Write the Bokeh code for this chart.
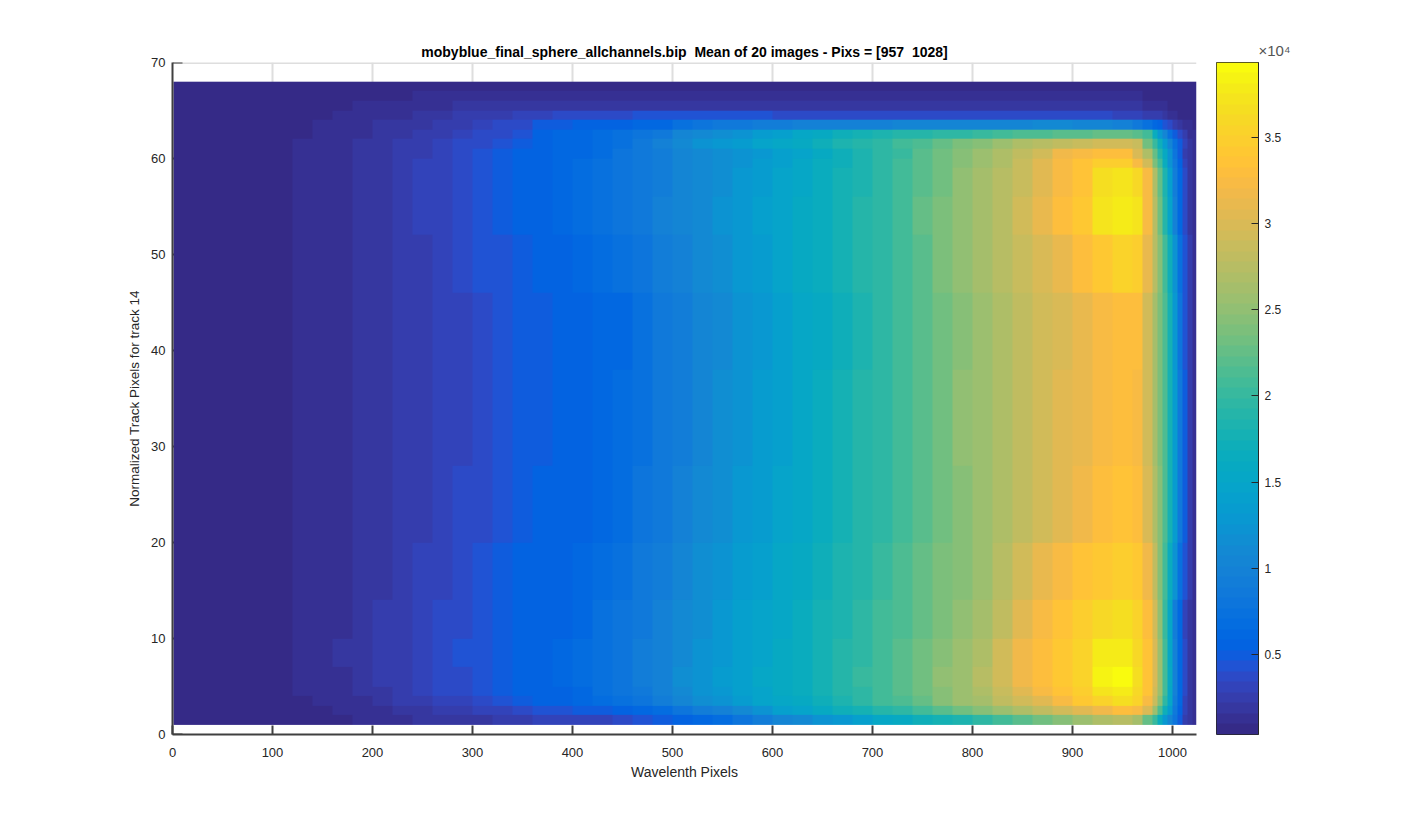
import numpy as np
from bokeh.plotting import figure
from bokeh.layouts import row
from bokeh.models import LinearColorMapper, FixedTicker
from bokeh.embed import file_html
from bokeh.resources import INLINE

title_text = "mobyblue_final_sphere_allchannels.bip\u00a0 Mean of 20 images - Pixs = [957\u00a0 1028]"
x_label = "Wavelenth Pixels"
y_label = "Normalized Track Pixels for track 14"
x_ticks = [0, 100, 200, 300, 400, 500, 600, 700, 800, 900, 1000]
y_ticks = [0, 10, 20, 30, 40, 50, 60, 70]
cbar_ticks = [50, 100, 150, 200, 250, 300, 350]
cbar_labels = ["0.5", "1", "1.5", "2", "2.5", "3", "3.5"]
cbar_multiplier = "×10⁴"
value_low, value_high = 3.7, 393.4   # hundreds of counts
x_limit = 1024
y_limit = 70

# wavelength-pixel column edges
col_edges = [1, 100] + list(range(120, 961, 20)) + [970, 980, 985, 990, 995, 1000, 1005, 1010, 1015, 1020, 1024]
# track-pixel row edges (bottom to top)
row_edges = [1, 2, 3, 4, 5, 7, 10, 14, 20, 28, 38, 46, 52, 56, 59, 60, 61, 62, 63, 64, 65, 66, 67, 68]

# mean counts (hundreds) per row, per column
r01 = [5,7,8,8.5,9.5,11,13,14.5,16,18,20,21.5,23.5,26,28.5,30,32,34,40,45,52,57,62,68,80,95,102,110,120,130,140,150,160,170,178,186,196,208,222,234,245,255,268,275,265,228,200,165,130,105,80,50,28,17,11]
r02 = [5,7,8.5,9.5,11.5,13.5,15.5,18,21,24,27.5,30,33.5,38,41,44,47,52,56,60,68,80,90,98,108,125,138,148,158,170,180,190,198,208,220,232,242,255,268,280,292,305,318,330,322,298,255,215,170,135,85,55,30,18,11]
r03 = [5,8,9.5,11,13.5,15.5,19,22,25.5,29.5,33.5,38,43.5,49,53.5,56.5,60,66,75,82,90,105,115,124,133,145,152,162,173,185,195,205,215,228,242,255,265,278,292,308,326,343,355,368,352,325,285,245,195,150,95,60,33,19,12]
r04 = [5,8.5,10.5,13,15,18,21.5,25.5,29.5,34.5,39.5,44.5,49.5,53.5,56,58,63,72,80,88,98,112,120,130,140,148,156,166,177,188,198,208,220,232,246,258,270,286,308,325,336,350,372,380,360,335,295,255,205,155,100,62,35,20,12]
r05 = [5,9,11,13.5,15.5,19,22.5,26.5,31,35.5,40,45.5,50.5,54,57,59,65,74,82,90,100,115,123,132,142,150,158,168,179,190,200,210,222,234,248,258,272,292,318,332,340,354,385,388,365,338,298,258,208,158,100,62,36,20,12]
r07 = [5,9.5,11,13.5,16,19.5,23,27,31,36,40.5,46,51,54.5,57,59,65,73,81,89,98,113,122,130,140,148,156,166,177,188,198,208,220,232,245,256,268,290,316,332,340,352,378,380,362,335,296,255,205,155,98,62,35,20,12]
r10 = [5,9.5,11,13,15.5,19,22.5,26.5,30.5,35,39.5,45,49.5,53.5,56,58,63,71,79,87,96,110,119,128,138,146,154,164,175,186,196,205,216,228,240,250,262,282,305,325,337,347,360,368,352,330,292,250,202,152,95,60,34,20,12]
r14 = [5,9,10.5,12.5,15,18,21.5,25.5,29.5,34,38.5,43.5,48,52.5,55,57,60,68,76,84,93,105,114,124,134,142,150,160,170,182,192,201,212,224,236,246,258,274,292,310,322,334,344,350,340,315,280,245,208,165,120,75,42,22,13]
r20 = [5,8.5,10.5,12.5,14.5,17.5,20.5,23.5,27.5,31.5,35.5,40,44.5,49,53,55.5,58.5,63,70,78,88,98,108,118,127,136,145,155,165,177,188,197,208,221,234,246,256,268,281,294,306,317,327,335,330,300,268,242,212,175,135,85,48,26,14]
r28 = [5,8,10,11.5,13.5,16.5,20,23,26.5,30,34,38.5,43,48,52,55,57.5,61,66,76,86,95,105,115,124,133,142,152,163,175,187,196,207,220,234,248,259,271,282,293,304,314,323,330,325,290,262,238,212,175,135,85,50,28,14]
r38 = [5,8,10,12,13.5,16.5,19.5,22.5,26,29.5,33.5,38,42.5,47.5,51.5,54.5,57,60,64,73,83,92,102,112,122,131,140,150,161,172,184,194,205,218,232,245,256,268,280,291,302,313,322,330,328,292,265,240,212,175,130,82,46,25,14]
r46 = [5,8.5,10,12,14.5,17,20.5,24,28,32,36.5,41,45.5,50.5,54,58,61,66,74,82,91,101,110,119,128,137,146,156,166,177,188,198,208,222,236,250,261,273,284,297,313,328,340,352,345,312,275,243,210,170,125,75,42,23,13]
r52 = [5,9,10.5,12.5,15,18,21,25,29,33.5,38,43,47.5,53,58,61,66,73,81,88,96,104,112,120,129,138,147,157,167,178,189,198,209,223,237,251,262,274,290,312,328,342,372,378,370,325,272,232,190,145,100,60,35,20,12]
r56 = [5,9,10.5,13,15,18,21.5,25.5,29.5,34,38.5,43,48,53,58,60,65,72,80,87,95,102,110,118,127,136,145,154,164,175,186,195,206,220,234,248,260,272,286,305,326,338,366,372,362,322,270,228,185,140,95,60,35,20,12]
r59 = [5,9,10,12.5,14.5,17.5,21,24.5,28.5,33,37.5,42.5,47.5,53,58,61,65,71,79,86,94,103,110,117,125,134,143,153,163,174,185,194,205,219,232,245,257,271,285,305,326,338,345,345,325,290,240,205,165,125,85,55,32,19,12]
r60 = [5,8.5,10,12,14.5,17,20.5,24,28,32,36.5,41.5,47,53,58,61,64,70,78,85,93,102,108,115,121,129,138,148,160,172,184,194,204,217,230,243,255,268,280,295,316,326,330,330,298,270,228,190,160,125,78,48,28,17,11]
r61 = [5,8,9.8,11.5,14,16.5,19.5,23,26.5,30.5,35,40,46,52,58,61,63,69,76,85,98,113,120,128,135,145,152,162,172,183,192,197,205,215,228,238,246,258,270,275,278,285,291,295,285,235,200,170,135,105,72,48,30,18,11]
r62 = [5,7.5,9,11,13,15.5,18,21.5,24.5,27,30.5,34.5,40,46,57,60,62,67,72,78,86,105,112,118,124,132,140,150,160,170,177,182,187,192,196,198,202,207,212,216,220,222,224,225,218,205,165,130,105,75,52,35,23,15,10]
r63 = [5,7,8.5,9.8,12,14,16,19,21.5,24,27,30,34.5,40,47,50,53,56,58,60,62,72,78,84,88,92,95,97,99,100,100,101,102,103,104,105,106,106,107,108,108,106,104,100,88,74,64,56,46,36,28,20,15,11,8]
r64 = [5,6.5,8,9,10,12,14,15.8,18,20,22.5,25,28,31,33.5,35,37,38,40,41,41,41,41,41,41,41,40,40,38,38,38,39,39,39,39,39,39,39,39,39,39,38,35,33,30,27,24,22,18,14,11,9,8,7,6]
r65 = [5,6,7,8,9,9.9,11,12,13.5,15,16,17,17.5,18,18,18.5,19,19,19,19,19,19,19,19,19,19,19,19,19,19,19,19,19,19,19,19,19,19,19,19,19,19,19,18,17,15,14,12,10,9,8,7,6.5,6,6]
r66 = [5,5.5,6,6.5,7,7.5,8.5,9.3,10,10.5,11,11.5,12,12.5,13,13,13.5,13.5,13.5,13.5,13.5,13.5,13.5,14,14,14,14,14,14,14,14,14,14,14,14,14,14,14,14,14,14,14,14,14,12,9.5,9,8.5,8,7.5,7,6.5,6,6,5.5]
r67 = [4.5,4.5,5,5,5.5,5.5,6,6,6.5,6.5,7,7,7.5,7.5,8,8,8,8.5,8.5,8.5,8.5,8.5,9,9,9,9,9,9,9,9,9,9,9,9,9,9,9,9,9,9,9,9,8.5,8.5,8,7.5,7,7,6.5,6.5,6,6,5.5,5.5,5]
rows = [r01, r02, r03, r04, r05, r07, r10, r14, r20, r28, r38, r46, r52, r56, r59, r60, r61, r62, r63, r64, r65, r66, r67]

# MATLAB parula(64)
parula_rgb = [
(.2081,.1663,.5292),(.2116,.1898,.5777),(.2123,.2138,.6270),(.2081,.2386,.6771),(.1959,.2645,.7279),(.1707,.2919,.7792),
(.1253,.3242,.8303),(.0591,.3598,.8683),(.0117,.3875,.8820),(.0060,.4086,.8828),(.0165,.4266,.8786),(.0329,.4430,.8720),
(.0498,.4586,.8641),(.0629,.4737,.8554),(.0723,.4887,.8467),(.0779,.5040,.8384),(.0793,.5200,.8312),(.0749,.5375,.8263),
(.0641,.5570,.8240),(.0488,.5772,.8228),(.0343,.5966,.8199),(.0265,.6137,.8135),(.0239,.6287,.8038),(.0231,.6418,.7913),
(.0228,.6535,.7768),(.0267,.6642,.7607),(.0384,.6743,.7436),(.0590,.6838,.7254),(.0843,.6928,.7062),(.1133,.7015,.6859),
(.1453,.7098,.6646),(.1801,.7177,.6424),(.2178,.7250,.6193),(.2586,.7317,.5954),(.3022,.7376,.5712),(.3482,.7424,.5473),
(.3953,.7459,.5244),(.4420,.7481,.5033),(.4871,.7491,.4840),(.5300,.7491,.4661),(.5709,.7485,.4494),(.6099,.7473,.4337),
(.6473,.7456,.4188),(.6834,.7435,.4044),(.7184,.7411,.3905),(.7525,.7384,.3768),(.7858,.7356,.3633),(.8185,.7327,.3498),
(.8507,.7299,.3360),(.8824,.7274,.3217),(.9139,.7258,.3063),(.9450,.7261,.2886),(.9739,.7314,.2666),(.9938,.7455,.2403),
(.9990,.7653,.2164),(.9955,.7861,.1967),(.9880,.8066,.1794),(.9789,.8271,.1633),(.9697,.8481,.1475),(.9626,.8705,.1309),
(.9589,.8949,.1132),(.9598,.9218,.0948),(.9661,.9514,.0755),(.9763,.9831,.0538)]
parula = ["#%02x%02x%02x" % tuple(round(c * 255) for c in rgb) for rgb in parula_rgb]

# one image pixel per wavelength pixel and per track pixel; each table cell is repeated over its span
grid = np.array(rows, dtype=float)
grid = np.repeat(grid, np.diff(col_edges), axis=1)
grid = np.repeat(grid, np.diff(row_edges), axis=0)
mapper = LinearColorMapper(palette=parula, low=value_low, high=value_high)

FONT = "Liberation Sans"
INK = "#262626"
AXIS = "#404040"
GUIDE = "#dedede"

p = figure(frame_width=1024, frame_height=672, x_range=(0, x_limit), y_range=(0, y_limit),
           output_backend="svg", toolbar_location=None, min_border_left=172, min_border_top=62,
           min_border_bottom=60, min_border_right=20, outline_line_color=None,
           background_fill_color="white", border_fill_color="white")
p.grid.visible = False

# top edge and ticks that the image covers, drawn first so they stay behind it
p.segment(x0=[0], x1=[x_limit], y0=[y_limit], y1=[y_limit], line_color=GUIDE, line_width=3)
p.segment(x0=x_ticks[1:], x1=x_ticks[1:], y0=[y_limit] * 10, y1=[60] * 10, line_color=GUIDE, line_width=2)
p.segment(x0=[0] * len(y_ticks), x1=[10] * len(y_ticks), y0=y_ticks, y1=y_ticks, line_color=AXIS, line_width=2)
p.image(image=[grid], x=col_edges[0], y=row_edges[0], dw=col_edges[-1] - col_edges[0],
        dh=row_edges[-1] - row_edges[0], color_mapper=mapper)

p.title.text = title_text
p.title.align = "center"
p.title.text_font = FONT
p.title.text_font_size = "14px"
p.title.text_font_style = "bold"
p.title.text_color = "black"
p.title.standoff = 6

for ax, ticks in ((p.xaxis[0], x_ticks), (p.yaxis[0], y_ticks)):
    ax.ticker = FixedTicker(ticks=ticks)
    ax.axis_line_color = AXIS
    ax.axis_line_width = 2
    ax.major_tick_line_color = AXIS
    ax.major_tick_line_width = 2
    ax.major_tick_out = 0
    ax.minor_tick_line_color = None
    ax.major_label_text_font = FONT
    ax.major_label_text_font_size = "13px"
    ax.major_label_text_color = INK
    ax.axis_label_text_font = FONT
    ax.axis_label_text_font_size = "14px"
    ax.axis_label_text_font_style = "normal"
    ax.axis_label_text_color = INK
p.xaxis[0].major_tick_in = 9
p.yaxis[0].major_tick_in = 0
p.xaxis[0].axis_label = x_label
p.yaxis[0].axis_label = y_label
p.yaxis[0].axis_label_text_font_size = "13.5px"
p.xaxis[0].major_label_standoff = 13
p.xaxis[0].axis_label_standoff = 4
p.yaxis[0].major_label_standoff = 7
p.yaxis[0].axis_label_standoff = 6

# colour bar as its own small figure, so that its multiplier can sit above its top right corner
band_width = (value_high - value_low) / len(parula)
levels = (value_low + band_width * (np.arange(len(parula)) + 0.5)).reshape(-1, 1)
cbar = figure(frame_width=42, frame_height=672, x_range=(0, 1), y_range=(value_low, value_high),
              x_axis_location=None, y_axis_location="right", output_backend="svg", toolbar_location=None,
              min_border_left=0, min_border_top=62, min_border_bottom=60, min_border_right=70,
              outline_line_color=INK, outline_line_width=1, background_fill_color="white",
              border_fill_color="white")
cbar.grid.visible = False
cbar.image(image=[levels], x=0, y=value_low, dw=1, dh=value_high - value_low, color_mapper=mapper)
ax = cbar.yaxis[0]
ax.ticker = FixedTicker(ticks=cbar_ticks)
ax.major_label_overrides = dict(zip(cbar_ticks, cbar_labels))
ax.axis_line_color = INK
ax.axis_line_width = 1
ax.major_tick_line_color = INK
ax.major_tick_in = 7
ax.major_tick_out = 0
ax.minor_tick_line_color = None
ax.major_label_standoff = 6
ax.major_label_text_font = FONT
ax.major_label_text_font_size = "12px"
ax.major_label_text_color = INK
cbar.title.text = cbar_multiplier
cbar.title.align = "left"
cbar.title.offset = 42
cbar.title.text_font = FONT
cbar.title.text_font_size = "15px"
cbar.title.text_font_style = "normal"
cbar.title.text_color = "#555555"
cbar.title.standoff = 8

open("out.html", "w").write(file_html(row(p, cbar, spacing=0), INLINE))
